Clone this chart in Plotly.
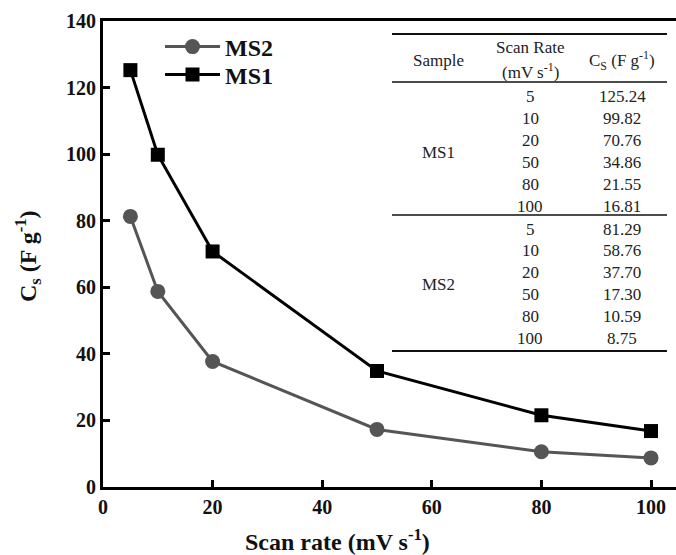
import plotly.graph_objects as go

scan_rate = [5, 10, 20, 50, 80, 100]
ms1_cs = [125.24, 99.82, 70.76, 34.86, 21.55, 16.81]
ms2_cs = [81.29, 58.76, 37.70, 17.30, 10.59, 8.75]
ms1_txt = ["125.24", "99.82", "70.76", "34.86", "21.55", "16.81"]
ms2_txt = ["81.29", "58.76", "37.70", "17.30", "10.59", "8.75"]
x_ticks = [0, 20, 40, 60, 80, 100]
y_ticks = [0, 20, 40, 60, 80, 100, 120, 140]

W, H = 676, 555
L, R, T, B = 103, 0, 21, 68
PW, PH = W - L - R, H - T - B

def px(x):
    return (x - L) / PW

def py(y):
    return (H - B - y) / PH

FONT = "Liberation Serif"

fig = go.Figure()
fig.add_trace(go.Scatter(x=scan_rate, y=ms2_cs, name="MS2", mode="lines+markers",
                         line=dict(color="#555555", width=3), legend="legend",
                         marker=dict(symbol="circle", size=15, color="#555555")))
fig.add_trace(go.Scatter(x=scan_rate, y=ms1_cs, name="MS1", mode="lines+markers",
                         line=dict(color="#000000", width=3), legend="legend2",
                         marker=dict(symbol="square", size=14, color="#000000")))

annotations = []
shapes = []
tfont = dict(family=FONT, size=17, color="#222222")

# table lines
x0, x1 = px(392), px(667)
for yy, w in [(34, 2), (82, 1.5), (215, 1.5), (351, 2)]:
    shapes.append(dict(type="line", xref="paper", yref="paper", x0=x0, x1=x1,
                       y0=py(yy), y1=py(yy), line=dict(color="#111111", width=w)))

cx_s, cx_r, cx_c = px(438), px(530), px(622)
annotations.append(dict(x=cx_s, y=py(60), text="Sample"))
annotations.append(dict(x=cx_r, y=py(48), text="Scan Rate"))
annotations.append(dict(x=cx_r, y=py(71), text="(mV s<sup>-1</sup>)"))
annotations.append(dict(x=cx_c, y=py(60), text="C<sub>S</sub> (F g<sup>-1</sup>)"))
annotations.append(dict(x=cx_s, y=py(152), text="MS1"))
annotations.append(dict(x=cx_s, y=py(284), text="MS2"))
row_h = 21.8
for i, (r, v) in enumerate(zip(scan_rate, ms1_txt)):
    yy = 97 + i * row_h
    annotations.append(dict(x=cx_r, y=py(yy), text=str(r)))
    annotations.append(dict(x=cx_c, y=py(yy), text=v))
for i, (r, v) in enumerate(zip(scan_rate, ms2_txt)):
    yy = 229 + i * row_h
    annotations.append(dict(x=cx_r, y=py(yy), text=str(r)))
    annotations.append(dict(x=cx_c, y=py(yy), text=v))
for a in annotations:
    a.update(xref="paper", yref="paper", showarrow=False, font=tfont,
             xanchor="center", yanchor="middle")

# axis titles
annotations.append(dict(xref="paper", yref="paper", x=px(337), y=py(540),
                        text="<b>Scan rate (mV s<sup>-1</sup>)</b>", showarrow=False,
                        font=dict(family=FONT, size=24, color="#111111"),
                        xanchor="center", yanchor="middle"))
annotations.append(dict(xref="paper", yref="paper", x=px(28), y=py(256),
                        text="<b>C<sub>s</sub> (F g<sup>-1</sup>)</b>", showarrow=False,
                        textangle=-90,
                        font=dict(family=FONT, size=24, color="#111111"),
                        xanchor="center", yanchor="middle"))

axis_common = dict(showline=True, linecolor="#000000", linewidth=3, ticks="inside",
                   ticklen=7, tickwidth=3, tickcolor="#000000", showgrid=False,
                   zeroline=False,
                   tickfont=dict(family=FONT, size=20, color="#111111", weight="bold"))

leg_common = dict(xanchor="left", yanchor="middle", bgcolor="rgba(0,0,0,0)",
                  itemwidth=55,
                  font=dict(family=FONT, size=24, color="#111111", weight="bold"))

fig.update_layout(
    width=W, height=H,
    margin=dict(l=L, r=R, t=T, b=B, pad=0),
    paper_bgcolor="white", plot_bgcolor="white",
    xaxis=dict(range=[0, PW / 5.48], tickvals=x_ticks, mirror=True, **axis_common),
    yaxis=dict(range=[0, 140], tickvals=y_ticks, **axis_common),
    showlegend=True,
    legend=dict(x=px(160), y=py(47), **leg_common),
    legend2=dict(x=px(160), y=py(75), **leg_common),
    annotations=annotations,
    shapes=shapes,
)

fig.write_html("out.html")
